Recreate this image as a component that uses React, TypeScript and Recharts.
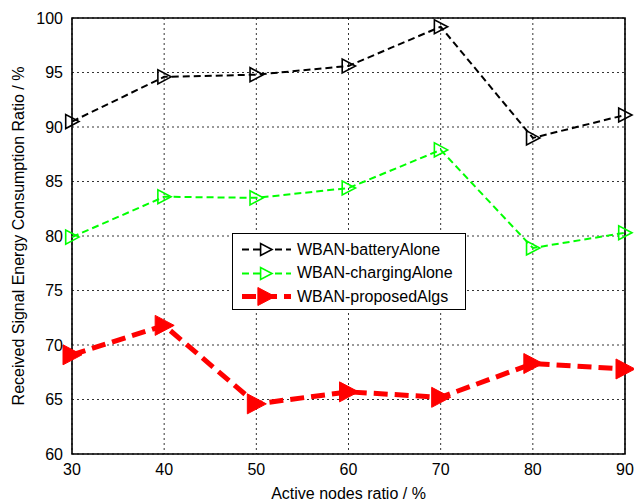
import { Label, Line, LineChart, CartesianGrid, ReferenceArea, XAxis, YAxis } from "recharts";

const nodeRatios = [30, 40, 50, 60, 70, 80, 90];
const batteryAlone = [90.5, 94.6, 94.8, 95.6, 99.2, 89.0, 91.1];
const chargingAlone = [79.9, 83.6, 83.5, 84.4, 87.9, 78.9, 80.3];
const proposedAlgs = [69.1, 71.8, 64.6, 65.7, 65.2, 68.3, 67.8];
const yTicks = [60, 65, 70, 75, 80, 85, 90, 95, 100];

const FONT = "'Liberation Sans', Arial, Helvetica, sans-serif";

const SERIES = [
  { key: "battery", name: "WBAN-batteryAlone", color: "#000000", width: 2, dash: "7 4", size: 7, filled: false },
  { key: "charging", name: "WBAN-chargingAlone", color: "#00ff00", width: 2, dash: "7 4", size: 7, filled: false },
  { key: "proposed", name: "WBAN-proposedAlgs", color: "#ff0000", width: 5, dash: "14 7", size: 10, filled: true },
];

const data = nodeRatios.map((x, i) => ({
  x,
  battery: batteryAlone[i],
  charging: chargingAlone[i],
  proposed: proposedAlgs[i],
}));

function triPath(cx: number, cy: number, s: number) {
  return `M${cx - s * 0.9},${cy - s} L${cx - s * 0.9},${cy + s} L${cx + s},${cy} Z`;
}

function makeDot(color: string, size: number, filled: boolean) {
  return (props: any) => {
    const { cx, cy, index } = props;
    if (cx == null || cy == null) return <g key={index} />;
    return (
      <path
        key={index}
        d={triPath(cx, cy, size)}
        fill={filled ? color : "none"}
        stroke={color}
        strokeWidth={filled ? 1 : 1.6}
      />
    );
  };
}

function LegendBox() {
  return (
    <div
      style={{
        position: "absolute",
        left: 232,
        top: 233,
        border: "1px solid #000",
        background: "#fff",
        width: 234,
        height: 77,
        boxSizing: "border-box",
        paddingTop: 4,
        fontFamily: FONT,
        fontSize: 16,
      }}
    >
      {SERIES.map((s) => (
        <div key={s.key} style={{ display: "flex", alignItems: "center", height: 23.5 }}>
          <svg width={64} height={23} style={{ flex: "none" }}>
            <line x1={9} y1={11.5} x2={58} y2={11.5} stroke={s.color} strokeWidth={s.width} strokeDasharray={s.dash} />
            <path
              d={triPath(33, 11.5, s.filled ? 9 : 6)}
              fill={s.filled ? s.color : "#fff"}
              stroke={s.color}
              strokeWidth={s.filled ? 1 : 1.6}
            />
          </svg>
          <span style={{ color: "#000", whiteSpace: "nowrap" }}>{s.name}</span>
        </div>
      ))}
    </div>
  );
}

export default function App() {
  return (
    <div style={{ position: "absolute", left: 0, top: 0, width: 634, height: 502, background: "#fff" }}>
      <LineChart width={634} height={502} data={data} margin={{ top: 18, right: 9, bottom: 18, left: 22 }}>
        <CartesianGrid stroke="#000" strokeWidth={0.8} strokeDasharray="2 3" />
        <XAxis
          dataKey="x"
          type="number"
          domain={[30, 90]}
          ticks={nodeRatios}
          tickLine={false}
          axisLine={false}
          height={30}
          tickMargin={4}
          tick={{ fill: "#000", fontSize: 16, fontFamily: FONT }}
        >
          <Label
            value="Active nodes ratio / %"
            position="insideBottom"
            offset={-15}
            style={{ fill: "#000", fontSize: 16, fontFamily: FONT }}
          />
        </XAxis>
        <YAxis
          type="number"
          domain={[60, 100]}
          ticks={yTicks}
          tickLine={false}
          axisLine={false}
          width={50}
          tickMargin={3}
          tick={{ fill: "#000", fontSize: 16, fontFamily: FONT }}
        >
          <Label
            value="Received Signal Energy Consumption Ratio / %"
            angle={-90}
            position="insideLeft"
            offset={-4}
            style={{ textAnchor: "middle", fill: "#000", fontSize: 16, fontFamily: FONT }}
          />
        </YAxis>
        <ReferenceArea x1={30} x2={90} y1={60} y2={100} fill="none" stroke="#000" strokeWidth={1.6} ifOverflow="visible" />
        {SERIES.map((s) => (
          <Line
            key={s.key}
            dataKey={s.key}
            name={s.name}
            type="linear"
            stroke={s.color}
            strokeWidth={s.width}
            strokeDasharray={s.dash}
            dot={makeDot(s.color, s.size, s.filled)}
            activeDot={false}
            isAnimationActive={false}
          />
        ))}
      </LineChart>
      <LegendBox />
    </div>
  );
}
